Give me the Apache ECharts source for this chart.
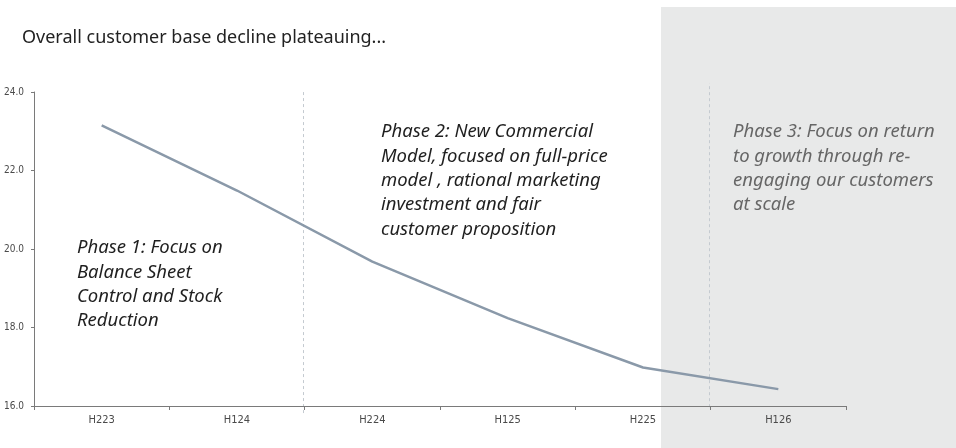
<!DOCTYPE html>
<html>
<head>
<meta charset="utf-8">
<script src="https://cdn.jsdelivr.net/npm/echarts@6/dist/echarts.min.js"></script>
<style>
  html, body { margin: 0; padding: 0; background: #ffffff; }
  #chart { width: 956px; height: 448px; }
</style>
</head>
<body>
<div id="chart"></div>
<script>
// Half-year periods and customer base (millions)
const periods = ['H223', 'H124', 'H224', 'H125', 'H225', 'H126'];
const customers = [23.15, 21.49, 19.68, 18.24, 16.98, 16.43];

// Value axis ticks
const yMin = 16;
const yMax = 24;
const yStep = 2;

// Phase boundaries, measured in category bands from the left edge
const phaseBoundaries = [2, 5];

const titleText = 'Overall customer base decline plateauing...';
const phaseNotes = [
  'Phase 1: Focus on\nBalance Sheet\nControl and Stock\nReduction',
  'Phase 2: New Commercial\nModel, focused on full-price\nmodel , rational marketing\ninvestment and fair\ncustomer proposition',
  'Phase 3: Focus on return\nto growth through re-\nengaging our customers\nat scale'
];

const FONT = '"Noto Sans", Lato, sans-serif';
const NARROW = '"Liberation Sans Narrow", "DejaVu Sans Condensed", sans-serif';

const chart = echarts.init(document.getElementById('chart'), null, { renderer: 'canvas' });

const noteStyle = (text, color) => ({
  text: text,
  fill: color,
  font: 'italic 18.5px ' + FONT,
  lineHeight: 24.3,
  textVerticalAlign: 'top'
});

const baseGraphics = [
  {
    id: 'phase3bg',
    type: 'rect',
    left: 661, top: 7,
    shape: { width: 295, height: 441 },
    style: { fill: '#e8e9e9' },
    z: -10, silent: true
  },
  {
    type: 'text',
    left: 22, top: 29,
    style: { text: titleText, fill: '#222222', font: '18px ' + FONT },
    z: 10
  },
  { type: 'text', left: 77, top: 236, style: noteStyle(phaseNotes[0], '#1f1f1f'), z: 10 },
  { type: 'text', left: 381, top: 120, style: noteStyle(phaseNotes[1], '#1f1f1f'), z: 10 },
  { type: 'text', left: 733, top: 120, style: noteStyle(phaseNotes[2], '#666666'), z: 10 }
];

chart.setOption({
  animation: false,
  backgroundColor: '#ffffff',
  grid: { left: 34, right: 110, top: 92, bottom: 42, containLabel: false },
  xAxis: [
    {
      type: 'category',
      data: periods,
      boundaryGap: true,
      axisLine: { lineStyle: { color: '#7a7a7a', width: 1 } },
      axisTick: { show: true, length: 4, lineStyle: { color: '#7a7a7a' } },
      axisLabel: { color: '#4a4a4a', fontFamily: NARROW, fontSize: 11, margin: 9 },
      splitLine: { show: false },
      z: 5
    },
    {
      type: 'value',
      min: 0,
      max: periods.length,
      show: false
    }
  ],
  yAxis: {
    type: 'value',
    min: yMin,
    max: yMax,
    interval: yStep,
    axisLine: { show: true, lineStyle: { color: '#7a7a7a', width: 1 } },
    axisTick: { show: true, length: 3, lineStyle: { color: '#7a7a7a' } },
    axisLabel: {
      color: '#4a4a4a', fontFamily: NARROW, fontSize: 10, margin: 10,
      formatter: v => v.toFixed(1)
    },
    splitLine: { show: false }
  },
  series: [
    {
      name: 'Customers',
      type: 'line',
      data: customers,
      xAxisIndex: 0,
      symbol: 'none',
      smooth: false,
      lineStyle: { color: '#8a99a9', width: 2.5 },
      z: 4
    }
  ],
  graphic: baseGraphics
});

// Dashed dividers between phases, placed through the hidden band-position axis
const dividerSpans = [[15.82, 24], [15.97, 24.23]];
const dividers = phaseBoundaries.map((b, i) => {
  const p0 = chart.convertToPixel({ xAxisIndex: 1, yAxisIndex: 0 }, [b, dividerSpans[i][0]]);
  const p1 = chart.convertToPixel({ xAxisIndex: 1, yAxisIndex: 0 }, [b, dividerSpans[i][1]]);
  return {
    type: 'line',
    shape: { x1: Math.round(p0[0]) - 1.5, y1: p0[1], x2: Math.round(p1[0]) - 1.5, y2: p1[1] },
    style: { stroke: '#c4cad0', lineWidth: 1, lineDash: [3, 3] },
    z: 3, silent: true
  };
});

chart.setOption({ graphic: baseGraphics.concat(dividers) }, { replaceMerge: ['graphic'] });
</script>
</body>
</html>
